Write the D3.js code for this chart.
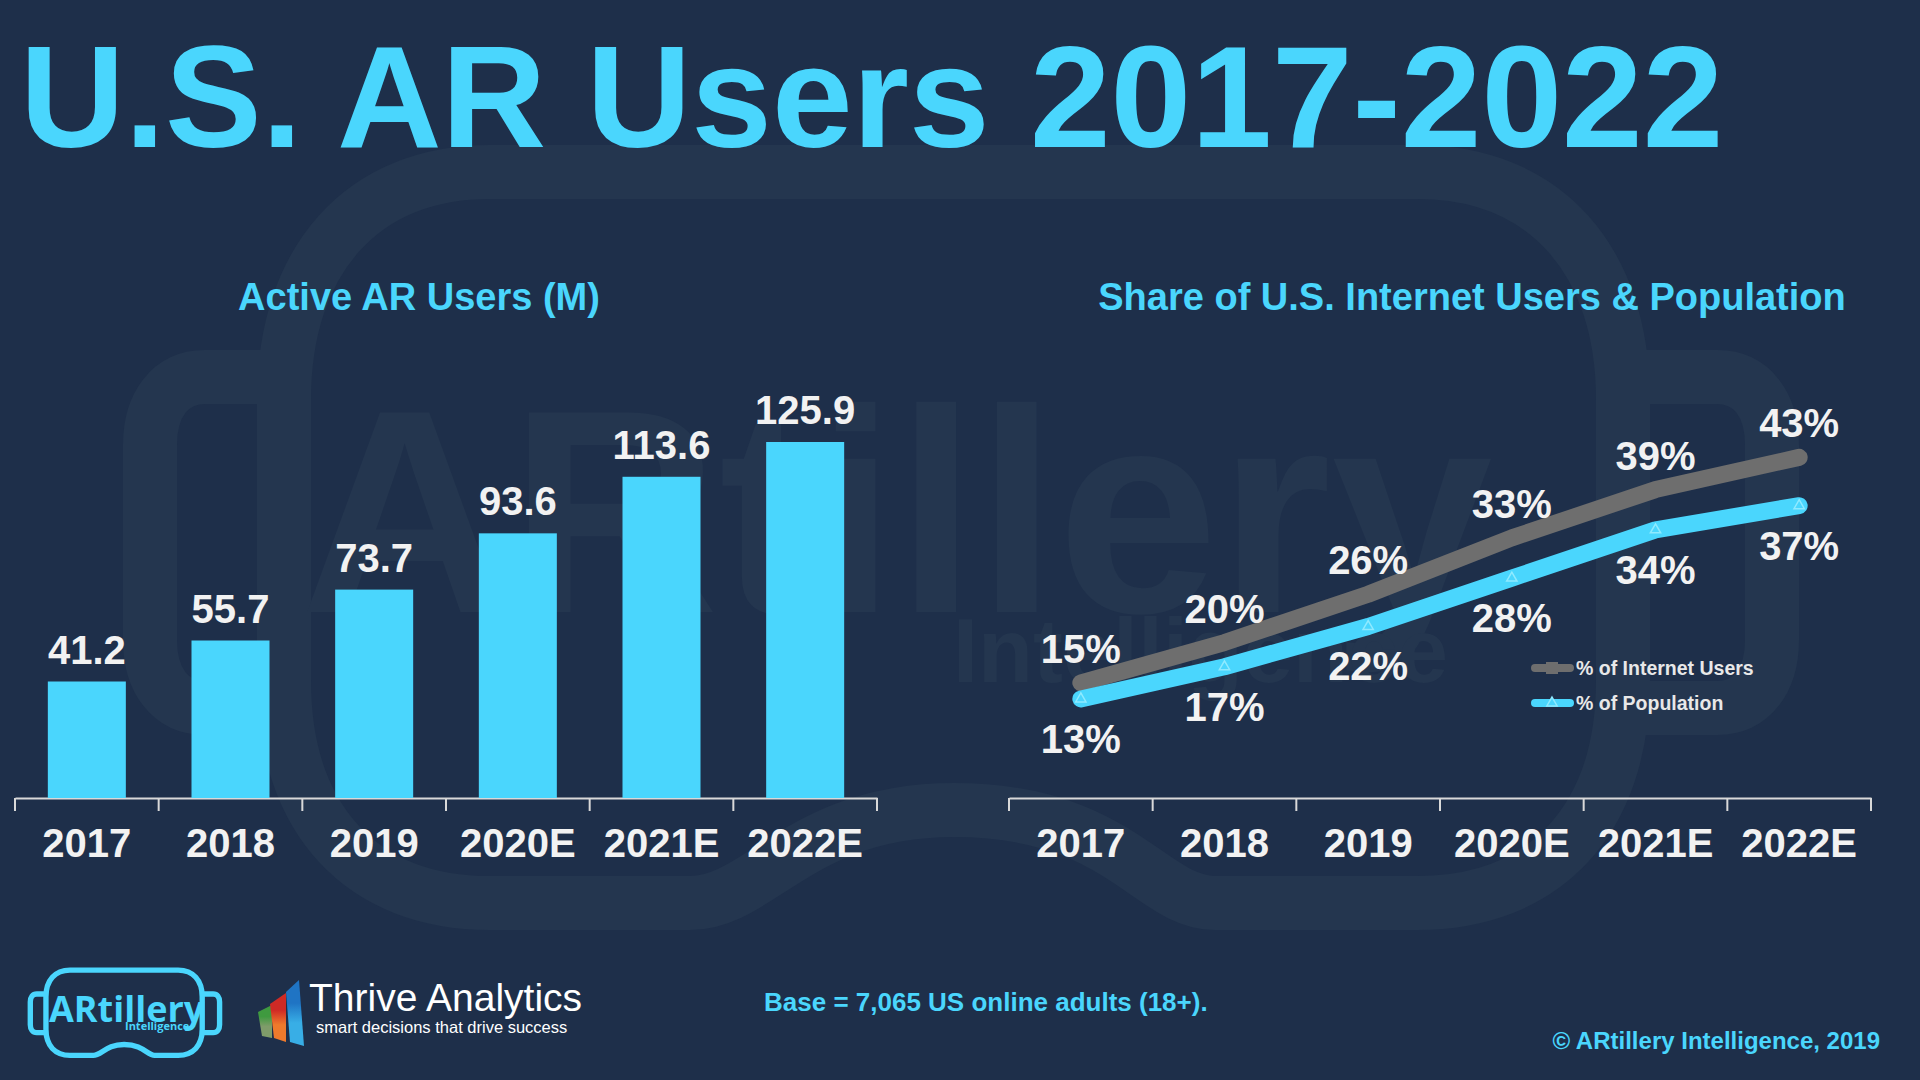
<!DOCTYPE html>
<html>
<head>
	<meta charset="utf-8">
	<script src="https://d3js.org/d3.v7.min.js"></script>
	<style>
		html, body { margin: 0; padding: 0; background: #1e2f4a; overflow: hidden; }
		text { font-family: "Liberation Sans", Arial, sans-serif; font-weight: bold; }
	</style>
</head>
<body>
	<div id="my_dataviz"></div>
	<script>

	// chart data
	const years = ["2017", "2018", "2019", "2020E", "2021E", "2022E"]
	const activeUsers = [41.2, 55.7, 73.7, 93.6, 113.6, 125.9]
	const internetShare = [15, 20, 26, 33, 39, 43]
	const populationShare = [13, 17, 22, 28, 34, 37]
	const legendLabels = ["% of Internet Users", "% of Population"]

	const width = 1920
	const height = 1080
	const cyan = "#4ad6fd"
	const grey = "#6e6e6e"
	const white = "#f2f2f2"
	const ghost = "#24364f"
	const baseline = 798

	const svg = d3.select("#my_dataviz")
	  .append("svg")
	    .attr("width", width)
	    .attr("height", height)
	    .style("display", "block")

	svg.append("rect")
	    .attr("width", width)
	    .attr("height", height)
	    .attr("fill", "#1e2f4a")

	// headset outline, used for the watermark and again for the small logo
	const bodyPath = "M490,172 H1417 C1545,172 1623,260 1623,400 V680 C1623,820 1545,903 1417,903 H1215 " +
	  "C1150,903 1120,810 954,810 C800,810 760,903 690,903 H490 C362,903 284,820 284,680 V400 C284,260 362,172 490,172 Z"
	const earPaths = [
	  "M284,377 H205 C170,377 150,405 150,445 V640 C150,680 170,708 205,708 H284",
	  "M1623,377 H1717 C1752,377 1772,405 1772,445 V640 C1772,680 1752,708 1717,708 H1623"
	]

	function drawHeadset(g, color, strokeWidth) {
	  g.selectAll("path")
	    .data([bodyPath].concat(earPaths))
	    .join("path")
	      .attr("d", d => d)
	      .attr("fill", "none")
	      .attr("stroke", color)
	      .attr("stroke-width", strokeWidth)
	}

	// watermark
	const mark = svg.append("g")
	drawHeadset(mark, ghost, 54)
	mark.append("text")
	    .attr("x", 300)
	    .attr("y", 612)
	    .attr("font-size", 290)
	    .attr("fill", ghost)
	    .text("ARtillery")
	mark.append("text")
	    .attr("x", 953)
	    .attr("y", 682)
	    .attr("font-size", 90)
	    .attr("fill", ghost)
	    .text("Intelligence")

	// titles
	svg.append("text")
	    .attr("x", 20)
	    .attr("y", 147)
	    .attr("font-size", 145)
	    .attr("fill", cyan)
	    .text("U.S. AR Users 2017-2022")

	svg.append("text")
	    .attr("x", 419)
	    .attr("y", 310)
	    .attr("text-anchor", "middle")
	    .attr("font-size", 38)
	    .attr("fill", cyan)
	    .text("Active AR Users (M)")

	svg.append("text")
	    .attr("x", 1472)
	    .attr("y", 310)
	    .attr("text-anchor", "middle")
	    .attr("font-size", 38)
	    .attr("fill", cyan)
	    .text("Share of U.S. Internet Users & Population")

	// x scale + axis, ticks sit on the band edges
	function addAxis(x) {
	  const step = x.step()
	  const edges = years.map(d => x(d) - step * x.paddingInner() / 2)
	  edges.push(edges[5] + step)

	  const axis = svg.append("g")
	      .attr("transform", `translate(0,${baseline})`)
	      .call(d3.axisBottom(x).tickSize(0).tickPadding(31))

	  axis.select(".domain")
	      .attr("stroke", "#d9d9d9")
	      .attr("stroke-width", 2)
	  axis.selectAll("text")
	      .attr("font-size", 40)
	      .attr("font-family", null)
	      .attr("fill", white)

	  axis.selectAll("line.edge")
	    .data(edges)
	    .join("line")
	      .attr("class", "edge")
	      .attr("x1", d => d)
	      .attr("x2", d => d)
	      .attr("y2", 13)
	      .attr("stroke", "#d9d9d9")
	      .attr("stroke-width", 2)
	}

	// left chart: bars
	const xBar = d3.scaleBand()
	  .domain(years)
	  .range([15, 877])
	  .paddingInner(0.457)
	  .paddingOuter(0.2285)

	const yBar = d3.scaleLinear()
	  .domain([0, 125.9])
	  .range([baseline, 442])

	addAxis(xBar)

	svg.append("g")
	  .selectAll("rect")
	  .data(activeUsers)
	  .join("rect")
	    .attr("x", (d, i) => xBar(years[i]))
	    .attr("y", d => yBar(d))
	    .attr("width", xBar.bandwidth())
	    .attr("height", d => baseline - yBar(d))
	    .attr("fill", cyan)

	svg.append("g")
	  .selectAll("text")
	  .data(activeUsers)
	  .join("text")
	    .attr("x", (d, i) => xBar(years[i]) + xBar.bandwidth() / 2)
	    .attr("y", d => yBar(d) - 18)
	    .attr("text-anchor", "middle")
	    .attr("font-size", 40)
	    .attr("fill", white)
	    .text(d => d.toFixed(1))

	// right chart: lines
	const xLine = d3.scaleBand()
	  .domain(years)
	  .range([1009, 1871])
	  .paddingInner(0.457)
	  .paddingOuter(0.2285)

	const yLine = d3.scaleLinear()
	  .domain([0, 50])
	  .range([803.6, 401])

	addAxis(xLine)

	const xMid = (d, i) => xLine(years[i]) + xLine.bandwidth() / 2
	const line = d3.line()
	  .x(xMid)
	  .y(d => yLine(d))

	const triangle = d3.symbol().type(d3.symbolTriangle).size(46)

	const seriesList = [
	  { values: internetShare, color: grey, dy: -20 },
	  { values: populationShare, color: cyan, dy: 54 }
	]

	seriesList.forEach(s => {
	  svg.append("path")
	      .attr("d", line(s.values))
	      .attr("fill", "none")
	      .attr("stroke", s.color)
	      .attr("stroke-width", 17)
	      .attr("stroke-linecap", "round")
	      .attr("stroke-linejoin", "round")

	  svg.append("g")
	    .selectAll("text")
	    .data(s.values)
	    .join("text")
	      .attr("x", xMid)
	      .attr("y", d => yLine(d) + s.dy)
	      .attr("text-anchor", "middle")
	      .attr("font-size", 40)
	      .attr("fill", white)
	      .text(d => d + "%")
	})

	// triangles only show on the cyan line
	svg.append("g")
	  .selectAll("path")
	  .data(populationShare)
	  .join("path")
	    .attr("d", triangle)
	    .attr("transform", (d, i) => `translate(${xMid(d, i)},${yLine(d)})`)
	    .attr("fill", "none")
	    .attr("stroke", "#8feaff")
	    .attr("stroke-width", 1.5)

	// legend
	const legendColors = [grey, cyan]
	const legendRow = d3.scaleLinear().domain([0, 1]).range([668, 703])
	const legend = svg.append("g")
	legendLabels.forEach((label, i) => {
	  const y = legendRow(i)
	  legend.append("line")
	      .attr("x1", 1535)
	      .attr("x2", 1570)
	      .attr("y1", y)
	      .attr("y2", y)
	      .attr("stroke", legendColors[i])
	      .attr("stroke-width", 8)
	      .attr("stroke-linecap", "round")
	  if (i == 0) {
	    legend.append("rect")
	        .attr("x", 1546)
	        .attr("y", y - 6)
	        .attr("width", 12)
	        .attr("height", 12)
	        .attr("fill", grey)
	  } else {
	    legend.append("path")
	        .attr("d", triangle)
	        .attr("transform", `translate(1552,${y})`)
	        .attr("fill", cyan)
	        .attr("stroke", "#8feaff")
	        .attr("stroke-width", 1.5)
	  }
	  legend.append("text")
	      .attr("x", 1576)
	      .attr("y", y + 7)
	      .attr("font-size", 19.5)
	      .attr("fill", "#e8e8e8")
	      .text(label)
	})

	// footer notes
	svg.append("text")
	    .attr("x", 764)
	    .attr("y", 1011)
	    .attr("font-size", 26)
	    .attr("fill", cyan)
	    .text("Base = 7,065 US online adults (18+).")

	svg.append("text")
	    .attr("x", 1880)
	    .attr("y", 1049)
	    .attr("text-anchor", "end")
	    .attr("font-size", 24)
	    .attr("fill", cyan)
	    .text("© ARtillery Intelligence, 2019")

	// ARtillery logo
	const logo = svg.append("g")
	const logoFrame = logo.append("g")
	    .attr("transform", "translate(12.8,950) scale(0.1167)")
	drawHeadset(logoFrame, cyan, 46)
	logo.append("text")
	    .attr("x", 49)
	    .attr("y", 1022)
	    .attr("font-size", 36)
	    .attr("fill", cyan)
	    .style("font-family", "'Open Sans'")
	    .text("ARtillery")
	logo.append("text")
	    .attr("x", 125)
	    .attr("y", 1030)
	    .attr("font-size", 11)
	    .attr("fill", cyan)
	    .style("font-family", "'Open Sans'")
	    .text("Intelligence")

	// Thrive Analytics logo
	const wedges = [
	  { d: "M258,1012 L272,1005 L272,1038 L262,1036 Z", top: "#3f9a3f", bottom: "#7f9c6a" },
	  { d: "M270,1004 L286,993 L286,1042 L274,1038 Z", top: "#cf2a25", bottom: "#ee7a2c" },
	  { d: "M286,992 L299,980 L304,1046 L290,1042 Z", top: "#1f74c4", bottom: "#38aee6" }
	]
	const defs = svg.append("defs")
	wedges.forEach((w, i) => {
	  const grad = defs.append("linearGradient")
	      .attr("id", "wedge" + i)
	      .attr("x1", 0).attr("x2", 0).attr("y1", 0).attr("y2", 1)
	  grad.append("stop").attr("offset", "35%").attr("stop-color", w.top)
	  grad.append("stop").attr("offset", "65%").attr("stop-color", w.bottom)
	  svg.append("path")
	      .attr("d", w.d)
	      .attr("fill", `url(#wedge${i})`)
	})
	svg.append("text")
	    .attr("x", 309)
	    .attr("y", 1011)
	    .attr("font-size", 39)
	    .attr("fill", "#ffffff")
	    .style("font-weight", "normal")
	    .text("Thrive Analytics")
	svg.append("text")
	    .attr("x", 316)
	    .attr("y", 1033)
	    .attr("font-size", 16.5)
	    .attr("fill", "#ffffff")
	    .style("font-weight", "normal")
	    .text("smart decisions that drive success")

	</script>
</body>
</html>
